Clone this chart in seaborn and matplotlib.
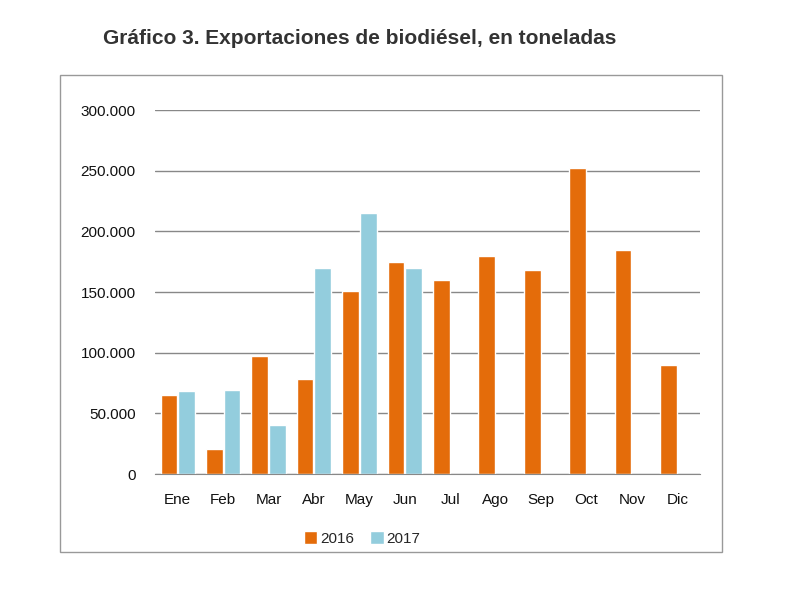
import matplotlib
matplotlib.use("Agg")
import matplotlib.pyplot as plt
import seaborn as sns
import pandas as pd
from matplotlib.patches import Rectangle
from matplotlib.ticker import FuncFormatter

months = ["Ene","Feb","Mar","Abr","May","Jun","Jul","Ago","Sep","Oct","Nov","Dic"]
v2016 = [65000,21000,97000,78000,151000,175000,160000,180000,168000,252000,185000,90000]
v2017 = [68000,69000,40000,170000,215000,170000,None,None,None,None,None,None]

rows = []
for m, a, b in zip(months, v2016, v2017):
    rows.append((m, "2016", a))
    rows.append((m, "2017", b))
df = pd.DataFrame(rows, columns=["mes", "año", "t"])

sns.set_style("white")
plt.rcParams['font.family'] = ['Liberation Sans', 'DejaVu Sans']
fig = plt.figure(figsize=(7.9, 6.03), dpi=100)
fig.patches.append(Rectangle((60/790, 1-552/603), 662/790, 477/603, transform=fig.transFigure,
                             fill=False, edgecolor="#999999", linewidth=1))
ax = fig.add_axes([155/790, 1-474/603, 545/790, 364/603])
sns.barplot(data=df, x="mes", y="t", hue="año", order=months,
            palette={"2016": "#E46C0A", "2017": "#93CDDD"}, width=0.78, gap=0.06,
            saturation=1, ax=ax)
ax.set_ylim(0, 300000)
ax.set_yticks(range(0, 300001, 50000))
ax.yaxis.set_major_formatter(FuncFormatter(lambda v, p: "0" if v == 0 else f"{int(v):,}".replace(",", ".")))
ax.grid(axis="y", color="#888888", linewidth=1)
ax.set_axisbelow(True)
for s in ["top", "right", "left"]:
    ax.spines[s].set_visible(False)
ax.spines["bottom"].set_color("#888888")
ax.set_xlabel(""); ax.set_ylabel("")
ax.tick_params(labelsize=11, length=0, labelcolor="#111111")
ax.tick_params(axis="y", pad=14)
ax.tick_params(axis="x", pad=14)
ax.legend(loc="upper center", bbox_to_anchor=(0.38, -0.12), ncol=2, frameon=False,
          fontsize=11, handlelength=0.9, handleheight=0.9, columnspacing=1.0, handletextpad=0.2)
fig.text(103/790, 1-38/603, "Gráfico 3. Exportaciones de biodiésel, en toneladas",
         fontsize=15, fontweight="bold", color="#333333", va="center")
fig.savefig("out.png", dpi=100, facecolor="white")
